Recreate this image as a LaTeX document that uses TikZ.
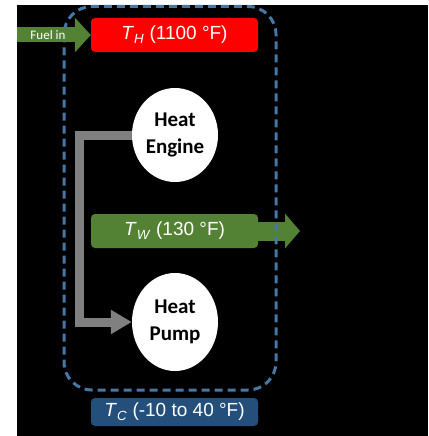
\documentclass[tikz,border=0pt]{standalone}
\usepackage{fontspec}
\setmainfont{Liberation Sans}
\newfontfamily\calibri{Carlito}
\usepackage{xcolor}
\usetikzlibrary{positioning,arrows.meta,shapes.geometric}

\definecolor{hotred}{RGB}{255,0,0}
\definecolor{warmgreen}{RGB}{84,130,53}
\definecolor{coldblue}{RGB}{36,79,122}
\definecolor{framblue}{RGB}{70,120,165}
\definecolor{pipegray}{RGB}{128,128,128}

\begin{document}
\begin{tikzpicture}[x=1pt,y=-1pt,>=Stealth,
    every node/.style={font=\fontsize{19}{22}\selectfont},
    tempbox/.style={rectangle,rounded corners=4pt,text=white,minimum width=167pt,minimum height=34pt,inner sep=0pt},
    machine/.style={ellipse,fill=white,text=black,align=center,inner sep=0pt,
      font=\calibri\bfseries\fontsize{21}{27}\selectfont},
    fatarrow/.style={draw=warmgreen,-{Triangle[length=16pt 0 0,width=34pt 0 0]}}]
  \useasboundingbox (0,0) rectangle (428,436);
  \fill[white] (0,0) rectangle (428,436);
  \fill[black] (17,5) rectangle (428,436);

  % reservoirs at three temperatures
  \node[tempbox,fill=hotred] (th) at (174.5,35) {\textit{T}\textsubscript{\textit{H}} (1100 °F)};
  \node[tempbox,fill=warmgreen] (tw) at (174.5,231) {\textit{T}\textsubscript{\textit{W}} (130 °F)};
  \node[tempbox,fill=coldblue,minimum height=28pt] (tc) at (174.5,412) {\textit{T}\textsubscript{\textit{C}} (-10 to 40 °F)};

  % engine drives the pump
  \node[machine,minimum width=86pt,minimum height=94pt] (engine) at (175,135) {Heat\\Engine};
  \node[machine,minimum width=86pt,minimum height=98pt] (pump) at (175,322) {Heat\\Pump};
  \draw[pipegray,line width=9pt,-{Triangle[length=21pt 0 0,width=23pt 0 0]}]
    (engine.west) -- ++(-52.5,0) |- (pump.west);

  % heat out runs under the frame, fuel in over it
  \coordinate (fuelsrc) at (17,35);
  \coordinate (twout) at (300,231);
  \draw[fatarrow,line width=19pt,-{Triangle[length=15pt 0 0,width=34pt 0 0]}] (tw.east) -- (twout);
  \draw[framblue,line width=3pt,dash pattern=on 8pt off 5pt,rounded corners=28pt]
    (64,6.5) rectangle (276,390);
  \draw[fatarrow,line width=15pt] (fuelsrc) -- (th.west);
  \node[text=white,font=\calibri\fontsize{13}{15}\selectfont] (fuel) at (48,35) {Fuel in};
\end{tikzpicture}
\end{document}
